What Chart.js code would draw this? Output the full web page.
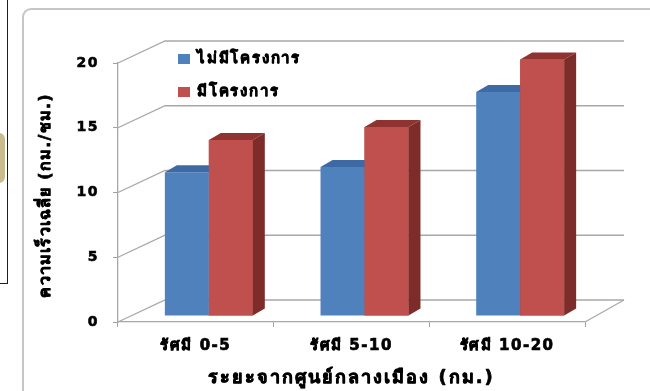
<!DOCTYPE html>
<html>
<head>
<meta charset="utf-8">
<script src="https://cdn.jsdelivr.net/npm/chart.js@4/dist/chart.umd.min.js"></script>
<style>
  html, body { margin: 0; padding: 0; background: #fff; }
  #wrap { position: relative; width: 650px; height: 391px; overflow: hidden; background: #fff; }
  #sideBox { position: absolute; left: -12px; top: -4px; width: 18px; height: 286px; border: 1.5px solid #1e1e1e; }
  #sideArt { position: absolute; left: -4px; top: 133px; width: 9px; height: 50px; border-radius: 0 6px 6px 0; background: #c9bc8e; }
  #frame { position: absolute; left: 22px; top: 8px; width: 720px; height: 480px; border: 2px solid #c6c6c6; border-radius: 9px; }
  canvas { position: absolute; left: 0; top: 0; }
</style>
</head>
<body>
<div id="wrap">
  <div id="sideBox"></div>
  <div id="sideArt"></div>
  <div id="frame"></div>
  <canvas id="chart" width="650" height="391"></canvas>
</div>
<script>
// Average speed by distance band, with and without the project
const categories = ['รัศมี 0-5', 'รัศมี 5-10', 'รัศมี 10-20'];
const seriesNames = ['ไม่มีโครงการ', 'มีโครงการ'];
const withoutProject = [11.1, 11.5, 17.3];
const withProject = [13.6, 14.6, 19.8];
const yTicks = [0, 5, 10, 15, 20];
const yTitle = 'ความเร็วเฉลี่ย (กม./ชม.)';
const xTitle = 'ระยะจากศูนย์กลางเมือง (กม.)';

const FONT = "Tahoma, 'DejaVu Sans', sans-serif";

// pseudo-3D geometry
const BAR_DEPTH = { dx: 12, dy: -7 };   // thickness of each bar
const BAR_SHIFT = { dx: 13, dy: -6 };   // bars stand a little behind the front floor edge
const WALL = { dxL: 47, dxR: 39, dy: -22 }; // back wall offset

const faceColors = [
  { top: '#3d6aa5', side: '#345d92' },
  { top: '#8f3330', side: '#7e2c29' }
];

// heavy black text: fill plus a thin outline
function heavyText(ctx, text, x, y, size, spacing) {
  ctx.font = 'bold ' + size + 'px ' + FONT;
  ctx.letterSpacing = spacing;
  ctx.fillStyle = '#000';
  ctx.strokeStyle = '#000';
  ctx.lineWidth = 0.7;
  ctx.lineJoin = 'round';
  ctx.fillText(text, x, y);
  ctx.strokeText(text, x, y);
}

function drawFaces(ctx, meta, cols) {
  meta.data.forEach(el => {
    const { x, y, base, width } = el.getProps(['x', 'y', 'base', 'width'], true);
    const L = x - width / 2, R = x + width / 2;
    const { dx, dy } = BAR_DEPTH;
    ctx.fillStyle = cols.top;
    ctx.beginPath();
    ctx.moveTo(L, y); ctx.lineTo(L + dx, y + dy); ctx.lineTo(R + dx, y + dy); ctx.lineTo(R, y);
    ctx.closePath(); ctx.fill();
    ctx.fillStyle = cols.side;
    ctx.beginPath();
    ctx.moveTo(R, y); ctx.lineTo(R + dx, y + dy); ctx.lineTo(R + dx, base + dy); ctx.lineTo(R, base);
    ctx.closePath(); ctx.fill();
  });
}

const threeD = {
  id: 'threeD',
  beforeDraw(chart) {
    chart.ctx.letterSpacing = '1.5px';
  },
  beforeDatasetsDraw(chart) {
    const { ctx, scales: { x, y } } = chart;
    // back wall gridlines with their slanted side-wall segments
    ctx.save();
    ctx.strokeStyle = '#a8a8a8';
    ctx.lineWidth = 1.3;
    const l = x.left, r = x.right;
    y.ticks.forEach(t => {
      const py = y.getPixelForValue(t.value);
      ctx.beginPath();
      ctx.moveTo(l, py);
      ctx.lineTo(l + WALL.dxL, py + WALL.dy);
      ctx.lineTo(r + WALL.dxR, py + WALL.dy);
      ctx.stroke();
    });
    const by = y.getPixelForValue(0);
    ctx.beginPath();
    ctx.moveTo(r, by);
    ctx.lineTo(r + WALL.dxR, by + WALL.dy);
    ctx.stroke();
    ctx.restore();
    // bars sit back from the front edge
    ctx.save();
    ctx.translate(BAR_SHIFT.dx, BAR_SHIFT.dy);
  },
  afterDatasetsDraw(chart) {
    const ctx = chart.ctx;
    // left-to-right: each later series hides the side of the one before it
    chart.data.datasets.forEach((ds, i) => {
      const meta = chart.getDatasetMeta(i);
      if (i > 0) meta.data.forEach(el => el.draw(ctx));
      drawFaces(ctx, meta, faceColors[i]);
    });
    ctx.restore();
  },
  afterDraw(chart) {
    const { ctx, scales: { x, y } } = chart;
    ctx.save();
    ctx.textBaseline = 'middle';
    // legend in the upper left of the plot
    ctx.textAlign = 'left';
    chart.data.datasets.forEach((ds, i) => {
      const cy = 59 + i * 33;
      ctx.fillStyle = ds.backgroundColor;
      ctx.fillRect(178, cy - 5, 12, 10);
      heavyText(ctx, ds.label, 197, cy, 15, '1.8px');
    });
    // axis titles
    ctx.textAlign = 'center';
    heavyText(ctx, xTitle, (x.left + x.right) / 2, 378, 18, '2px');
    ctx.save();
    ctx.translate(46, (y.top + y.bottom) / 2 + 3);
    ctx.rotate(-Math.PI / 2);
    heavyText(ctx, yTitle, 0, 0, 16, '1.2px');
    ctx.restore();
    ctx.restore();
  }
};

new Chart(document.getElementById('chart'), {
  type: 'bar',
  data: {
    labels: categories,
    datasets: [
      { label: seriesNames[0], data: withoutProject, backgroundColor: '#4f81bd' },
      { label: seriesNames[1], data: withProject, backgroundColor: '#c0504d' }
    ]
  },
  options: {
    responsive: false,
    animation: false,
    events: [],
    layout: { padding: { left: 0, top: 63, right: 65, bottom: 0 } },
    datasets: { bar: { categoryPercentage: 0.565, barPercentage: 1.0, clip: false } },
    plugins: { legend: { display: false }, tooltip: { enabled: false } },
    scales: {
      x: {
        afterFit: s => { s.height = 69; },
        grid: { display: true, drawOnChartArea: false, drawTicks: true, tickLength: 5, color: '#a0a0a0', offset: true },
        border: { display: true, color: '#a8a8a8', width: 1.3 },
        ticks: { color: '#000', padding: 10, textStrokeColor: '#000', textStrokeWidth: 0.7, font: { family: FONT, size: 15, weight: 'bold' } }
      },
      y: {
        min: 0, max: 20,
        afterFit: s => { s.width = 118; },
        afterBuildTicks: s => { s.ticks = yTicks.map(v => ({ value: v })); },
        grid: { display: true, drawOnChartArea: false, drawTicks: true, tickLength: 5, color: '#a0a0a0' },
        border: { display: true, color: '#a8a8a8', width: 1.3 },
        ticks: { color: '#000', padding: 14, textStrokeColor: '#000', textStrokeWidth: 0.6, font: { family: FONT, size: 14, weight: 'bold' } }
      }
    }
  },
  plugins: [threeD]
});
</script>
</body>
</html>
